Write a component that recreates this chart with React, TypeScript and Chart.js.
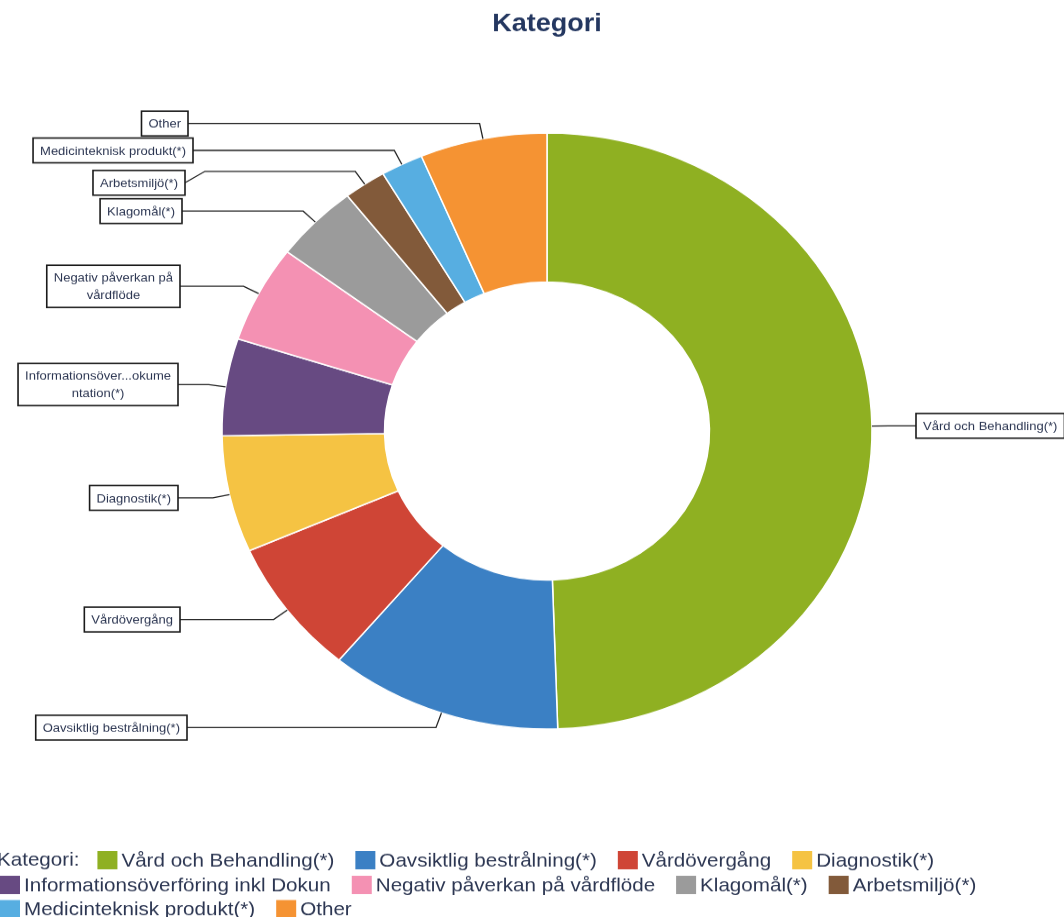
import React, { useEffect, useRef } from 'react';
import { Chart, registerables } from 'chart.js';

Chart.register(...registerables);

// ---- data ----
const categories: string[] = [
  'Vård och Behandling(*)',
  'Oavsiktlig bestrålning(*)',
  'Vårdövergång',
  'Diagnostik(*)',
  'Informationsöverföring inkl Dokun',
  'Negativ påverkan på vårdflöde',
  'Klagomål(*)',
  'Arbetsmiljö(*)',
  'Medicinteknisk produkt(*)',
  'Other',
];
const counts: number[] = [47, 11, 7, 6, 5, 5, 4, 2, 2, 6];
const calloutLabels: string[][] = [
  ['Vård och Behandling(*)'],
  ['Oavsiktlig bestrålning(*)'],
  ['Vårdövergång'],
  ['Diagnostik(*)'],
  ['Informationsöver...okume', 'ntation(*)'],
  ['Negativ påverkan på', 'vårdflöde'],
  ['Klagomål(*)'],
  ['Arbetsmiljö(*)'],
  ['Medicinteknisk produkt(*)'],
  ['Other'],
];
const chartTitle = 'Kategori';
const legendTitle = 'Kategori:';

// ---- styles / layout ----
const colors = [
  '#8fb022', '#3b80c4', '#cf4536', '#f5c343', '#674a82',
  '#f491b3', '#9b9b9b', '#825a3a', '#57aee1', '#f59333',
];
const calloutEdgeX = [916, 187, 180, 178, 178, 180, 182, 185, 193, 188];
const calloutShiftY = [0, 0, 0, 0, 0, 0, 0, 12.5, 0, 0];
const FONT = '"Liberation Sans", Arial, sans-serif';
const TEXT_COLOR = '#2c3652';
const SCALE_Y = 0.917;
const W = 1064;
const H = 1000;

const calloutPlugin = {
  id: 'callouts',
  afterDatasetsDraw(chart: any) {
    const ctx = chart.ctx as CanvasRenderingContext2D;
    const meta = chart.getDatasetMeta(0);
    const EXT = 17, PADX = 7, PADY = 4, LH = 19, KINK = 20;
    ctx.save();
    ctx.font = `13px ${FONT}`;
    meta.data.forEach((arc: any, i: number) => {
      const p = arc.getProps(['x', 'y', 'startAngle', 'endAngle', 'outerRadius'], true);
      const mid = (p.startAngle + p.endAngle) / 2;
      const c = Math.cos(mid), s = Math.sin(mid);
      const ax = p.x + c * p.outerRadius, ay = p.y + s * p.outerRadius;
      const ex = ax + c * EXT, ey = ay + s * EXT;
      const right = c > 0.3;
      const lines = calloutLabels[i];
      const tw = Math.max(...lines.map((l) => ctx.measureText(l).width));
      const bw = tw + 2 * PADX;
      const bh = lines.length * LH + 2 * PADY;
      const edge = calloutEdgeX[i];
      const cy = ey + calloutShiftY[i];
      const bx = right ? edge : edge - bw;
      ctx.strokeStyle = '#222';
      ctx.lineWidth = 1.3;
      ctx.beginPath();
      ctx.moveTo(ax, ay);
      ctx.lineTo(ex, ey);
      if (calloutShiftY[i]) {
        const kx = right ? edge - KINK : edge + KINK;
        ctx.lineTo(kx, ey);
        ctx.lineTo(edge, cy);
      } else {
        ctx.lineTo(edge, ey);
      }
      ctx.stroke();
      ctx.fillStyle = '#fff';
      ctx.fillRect(bx, cy - bh / 2, bw, bh);
      ctx.lineWidth = 1.6;
      ctx.strokeStyle = '#1a1a1a';
      ctx.strokeRect(bx, cy - bh / 2, bw, bh);
      ctx.fillStyle = TEXT_COLOR;
      ctx.textAlign = 'center';
      ctx.textBaseline = 'middle';
      lines.forEach((l, k) => {
        ctx.fillText(l, bx + bw / 2, cy - ((lines.length - 1) * LH) / 2 + k * LH + 1);
      });
    });
    ctx.restore();
  },
};

const titleLegendPlugin = {
  id: 'titleLegend',
  afterDraw(chart: any) {
    const ctx = chart.ctx as CanvasRenderingContext2D;
    ctx.save();
    // title
    ctx.font = `bold 27px ${FONT}`;
    ctx.fillStyle = '#243760';
    ctx.textAlign = 'center';
    ctx.textBaseline = 'middle';
    ctx.fillText(chartTitle, 547, 27);
    // legend
    ctx.font = `20.6px ${FONT}`;
    ctx.textAlign = 'left';
    const rowY = [938, 965, 991.5];
    const BOX = 20, GAP = 4, ITEM_GAP = 21, MAXX = 1010;
    let row = 0;
    ctx.fillStyle = TEXT_COLOR;
    ctx.fillText(legendTitle, -3, rowY[0]);
    let x = -3 + ctx.measureText(legendTitle).width + 18;
    categories.forEach((cat, i) => {
      const w = BOX + GAP + ctx.measureText(cat).width;
      if (x + w > MAXX) {
        row += 1;
        x = 0;
      }
      const y = rowY[row];
      ctx.fillStyle = colors[i];
      ctx.fillRect(x, y - BOX / 2, BOX, BOX);
      ctx.fillStyle = TEXT_COLOR;
      ctx.fillText(cat, x + BOX + GAP, y + 1);
      x += w + ITEM_GAP;
    });
    ctx.restore();
  },
};

export default function App() {
  const ref = useRef<HTMLCanvasElement | null>(null);
  useEffect(() => {
    if (!ref.current) return;
    Chart.defaults.font.family = FONT;
    const chart = new Chart(ref.current, {
      type: 'doughnut',
      data: {
        labels: categories,
        datasets: [
          {
            data: counts,
            backgroundColor: colors,
            borderColor: '#ffffff',
            borderWidth: 1.5,
          },
        ],
      },
      options: {
        responsive: false,
        animation: false,
        devicePixelRatio: 1,
        events: [],
        radius: 325,
        cutout: '50%',
        layout: { padding: { left: 30, right: 0, top: 0, bottom: 60 } },
        plugins: {
          legend: { display: false },
          title: { display: false },
          tooltip: { enabled: false },
        },
      } as any,
      plugins: [calloutPlugin, titleLegendPlugin],
    });
    return () => chart.destroy();
  }, []);
  return (
    <div style={{ position: 'fixed', left: 0, top: 0, width: W, height: 917, overflow: 'hidden', background: '#fff' }}>
      <div style={{ width: W, height: H, transform: `scale(1, ${SCALE_Y})`, transformOrigin: '0 0' }}>
        <canvas ref={ref} width={W} height={H} style={{ display: 'block' }} />
      </div>
    </div>
  );
}
